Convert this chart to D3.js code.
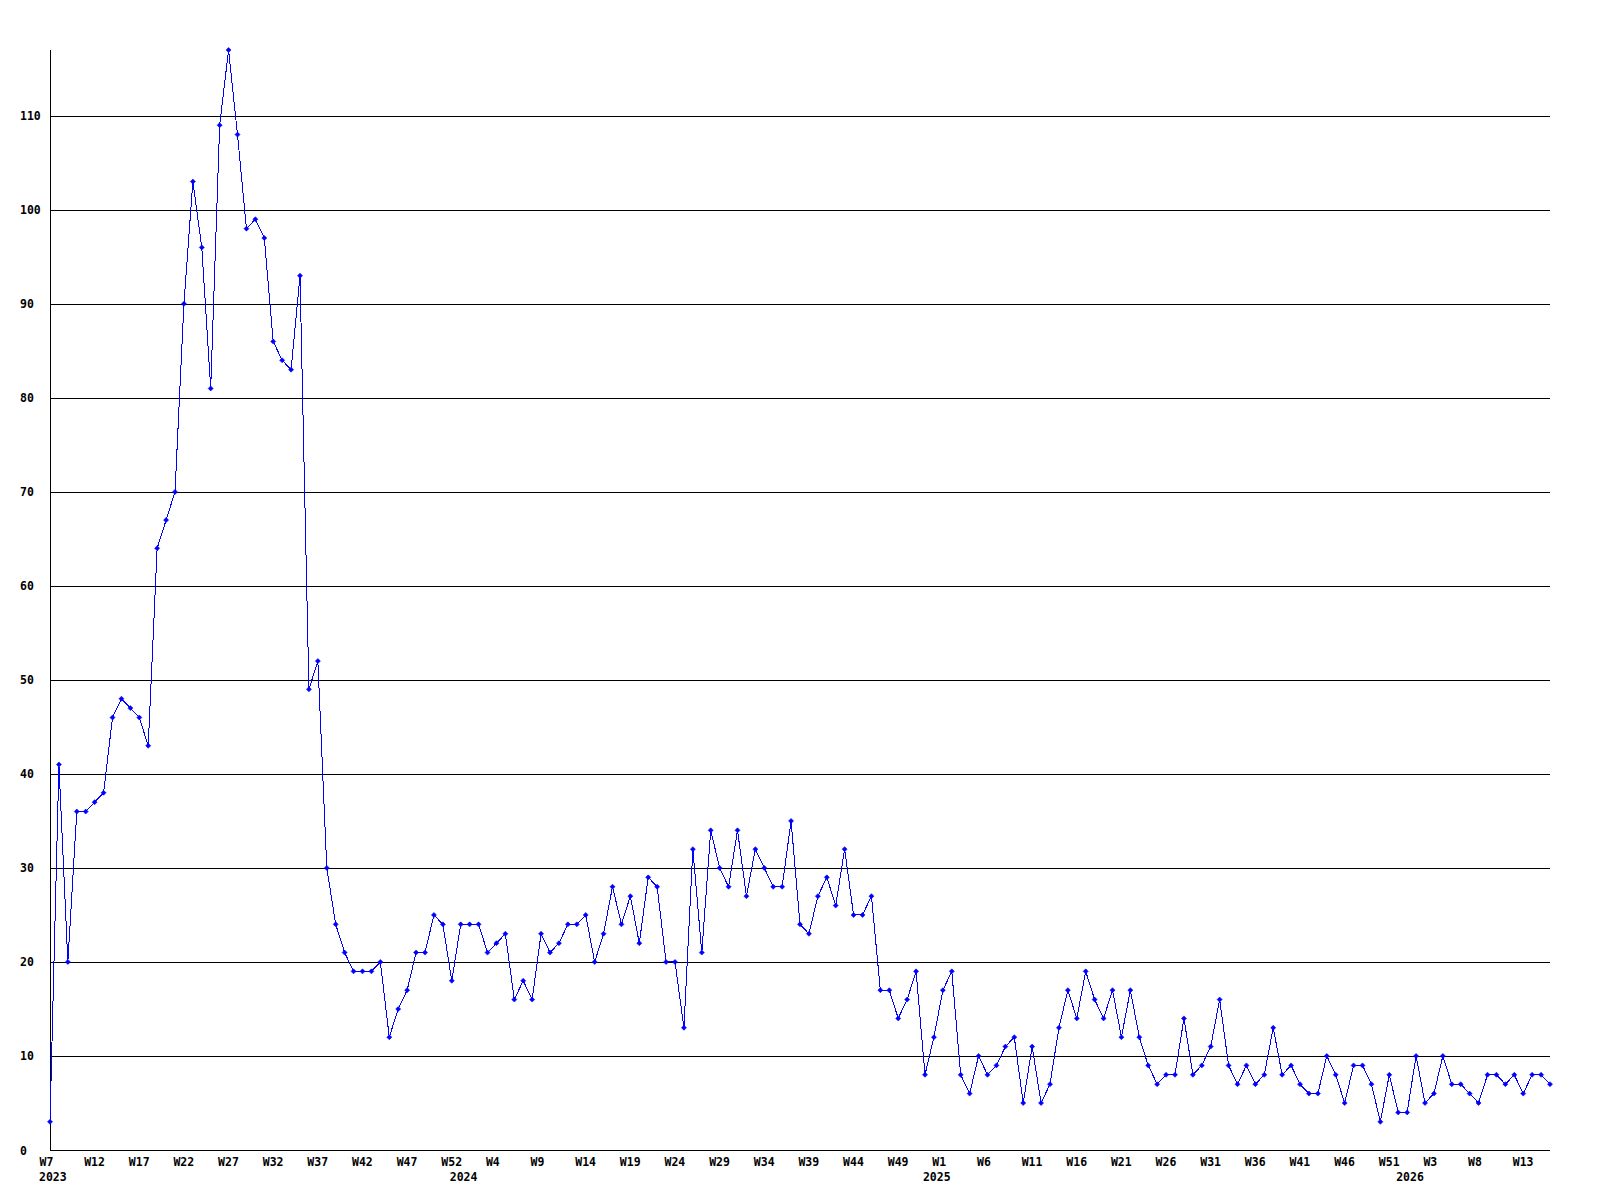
<!DOCTYPE html>
<html>
<head>
<meta charset="utf-8">
<script src="https://d3js.org/d3.v7.min.js"></script>
<style>
  body { margin: 0; background: #fff; }
  text { font-family: "DejaVu Sans Mono", monospace; font-weight: bold; font-size: 11.5px; fill: #000; }
</style>
</head>
<body>
<script>
// Weeks covered, one point per week (each year after the first starts at W0)
var years = ["2023", "2024", "2025", "2026"];
var firstWeek = [7, 0, 0, 0];
var lastWeek = [52, 52, 52, 16];

// Weekly counts
var counts = [
  3, 41, 20, 36, 36, 37, 38, 46, 48, 47, 46, 43, 64, 67, 70, 90, 103, 96, 81, 109,
  117, 108, 98, 99, 97, 86, 84, 83, 93, 49, 52, 30, 24, 21, 19, 19, 19, 20, 12, 15,
  17, 21, 21, 25, 24, 18, 24, 24, 24, 21, 22, 23, 16, 18, 16, 23, 21, 22, 24, 24,
  25, 20, 23, 28, 24, 27, 22, 29, 28, 20, 20, 13, 32, 21, 34, 30, 28, 34, 27, 32,
  30, 28, 28, 35, 24, 23, 27, 29, 26, 32, 25, 25, 27, 17, 17, 14, 16, 19, 8, 12,
  17, 19, 8, 6, 10, 8, 9, 11, 12, 5, 11, 5, 7, 13, 17, 14, 19, 16, 14, 17,
  12, 17, 12, 9, 7, 8, 8, 14, 8, 9, 11, 16, 9, 7, 9, 7, 8, 13, 8, 9,
  7, 6, 6, 10, 8, 5, 9, 9, 7, 3, 8, 4, 4, 10, 5, 6, 10, 7, 7, 6,
  5, 8, 8, 7, 8, 6, 8, 8, 7
];

// y axis tick labels
var yTicks = [0, 10, 20, 30, 40, 50, 60, 70, 80, 90, 100, 110];

// Build the category list
var weeks = [];
years.forEach(function(y, k) {
  for (var w = firstWeek[k]; w <= lastWeek[k]; w++) {
    weeks.push({ key: y + "-" + w, year: y, week: w, first: w === firstWeek[k] });
  }
});
var data = weeks.map(function(d, i) { return { key: d.key, value: counts[i] }; });

var svgWidth = 1600;
var svgHeight = 1200;

var margin = { top: 50, right: 50, bottom: 50, left: 50 };
var chartWidth = svgWidth - margin.left - margin.right;
var chartHeight = svgHeight - margin.top - margin.bottom;

var svg = d3.select("body")
  .append("svg")
  .attr("width", svgWidth)
  .attr("height", svgHeight);

var chartGroup = svg.append("g")
  .attr("transform", `translate(${margin.left}, ${margin.top})`);

var xScale = d3.scalePoint()
  .domain(weeks.map(d => d.key))
  .range([0, chartWidth]);

var yScale = d3.scaleLinear()
  .domain([0, d3.max(counts)])
  .range([chartHeight, 0]);

// horizontal grid lines
chartGroup.append("g")
  .selectAll("line")
  .data(yTicks.filter(t => t > 0))
  .enter()
  .append("line")
  .attr("x1", 0)
  .attr("x2", chartWidth)
  .attr("y1", d => Math.round(yScale(d)) + 0.5)
  .attr("y2", d => Math.round(yScale(d)) + 0.5)
  .attr("stroke", "#000")
  .attr("stroke-width", 1);

// y axis labels, left aligned
var leftAxis = d3.axisLeft(yScale).tickValues(yTicks).tickSize(0).tickPadding(0);
var yAxisG = chartGroup.append("g").call(leftAxis);
yAxisG.select(".domain").remove();
yAxisG.selectAll("text")
  .attr("x", -30)
  .attr("dy", "4px")
  .attr("text-anchor", "start")
  .attr("font-family", null)
  .attr("font-size", null);

// x axis labels, every 5th week
var bottomAxis = d3.axisBottom(xScale)
  .tickValues(weeks.filter((d, i) => i % 5 === 0).map(d => d.key))
  .tickFormat(k => "W" + k.split("-")[1])
  .tickSize(0)
  .tickPadding(0);
var xAxisG = chartGroup.append("g")
  .attr("transform", `translate(0, ${chartHeight})`)
  .call(bottomAxis);
xAxisG.select(".domain").remove();
xAxisG.selectAll("text")
  .attr("y", 16)
  .attr("dy", null)
  .attr("dx", -11)
  .attr("text-anchor", "start")
  .attr("font-family", null)
  .attr("font-size", null);

// year labels at the first week of each year
chartGroup.append("g")
  .selectAll("text")
  .data(weeks.filter(d => d.first))
  .enter()
  .append("text")
  .attr("x", d => xScale(d.key) - 11)
  .attr("y", chartHeight + 31)
  .text(d => d.year);

// axis lines
chartGroup.append("line")
  .attr("x1", 0.5).attr("x2", 0.5)
  .attr("y1", 0).attr("y2", chartHeight)
  .attr("stroke", "#000");
chartGroup.append("line")
  .attr("x1", 0).attr("x2", chartWidth)
  .attr("y1", chartHeight + 0.5).attr("y2", chartHeight + 0.5)
  .attr("stroke", "#000");

// the line
var drawLine = d3.line()
  .x(d => xScale(d.key))
  .y(d => yScale(d.value));

chartGroup.append("path")
  .attr("d", drawLine(data))
  .attr("fill", "none")
  .attr("stroke", "#0000ff")
  .attr("stroke-width", 1)
  .attr("shape-rendering", "crispEdges");

// point markers
chartGroup.selectAll(".marker")
  .data(data)
  .enter()
  .append("path")
  .attr("class", "marker")
  .attr("transform", d => `translate(${xScale(d.key)}, ${yScale(d.value)})`)
  .attr("d", "M-2.5,0L0,-2.5L2.5,0L0,2.5Z")
  .attr("fill", "#0000ff")
  .attr("stroke", "#0000ff")
  .attr("stroke-width", 0.6);
</script>
</body>
</html>
